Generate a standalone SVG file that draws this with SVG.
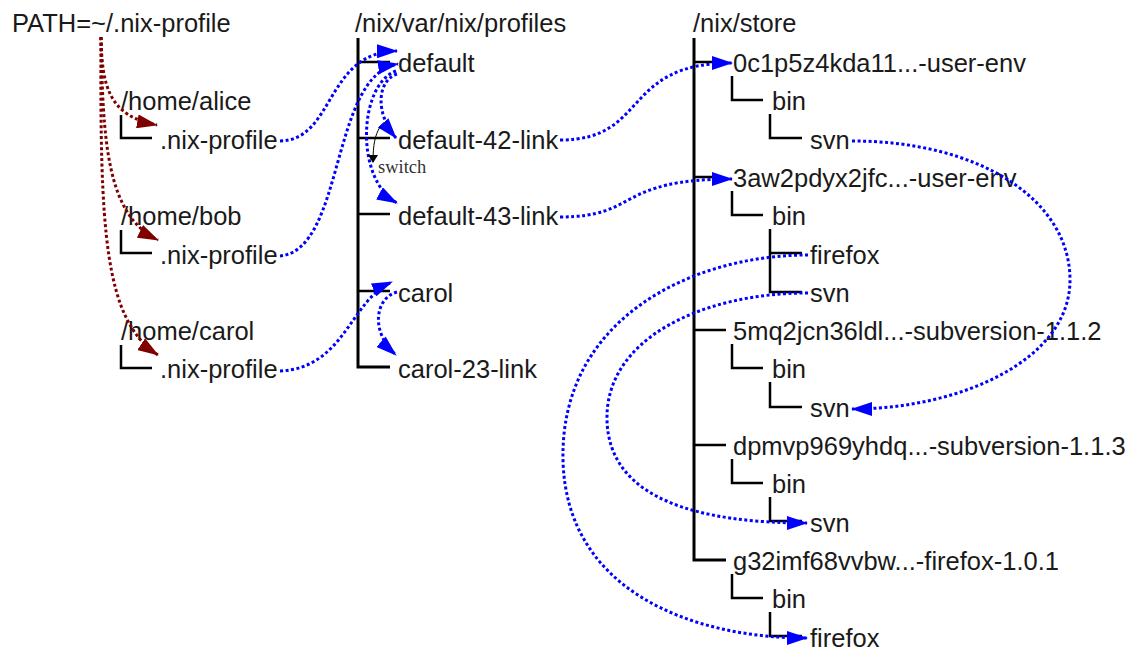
<svg xmlns="http://www.w3.org/2000/svg" width="1133" height="650" viewBox="0 0 1133 650">
<style>
text{font-family:"Liberation Sans",Arial,sans-serif;font-size:25.5px;fill:#1a1a1a}
.sw{font-family:"Liberation Serif","Times New Roman",serif;font-size:18.5px;fill:#333}
.tree{fill:none;stroke:#000;stroke-width:2.5}
.trunk{fill:none;stroke:#000;stroke-width:3}
.blue{fill:none;stroke:#0000ff;stroke-width:3;stroke-dasharray:3 2.5}
.red{fill:none;stroke:#800000;stroke-width:3;stroke-dasharray:3 2.5}
</style>
<defs>
<marker id="ab" markerWidth="21" markerHeight="14" refX="20" refY="7" orient="auto" markerUnits="userSpaceOnUse"><path d="M0,0 L21,7 L0,14 z" fill="#0000ff"/></marker>
<marker id="ar" markerWidth="21" markerHeight="14" refX="20" refY="7" orient="auto" markerUnits="userSpaceOnUse"><path d="M0,0 L21,7 L0,14 z" fill="#800000"/></marker>
<marker id="ak" markerWidth="8" markerHeight="10" refX="7" refY="5" orient="auto" markerUnits="userSpaceOnUse"><path d="M0,0 L8,5 L0,10 z" fill="#000"/></marker>
</defs>
<rect width="1133" height="650" fill="#fff"/>

<g id="path-var"><text x="12" y="32">PATH=~/.nix-profile</text></g>

<g id="home-alice">
<text x="121" y="110">/home/alice</text>
<path class="tree" d="M121,115 V138 H152"/>
<text x="160" y="148.6">.nix-profile</text>
</g>
<g id="home-bob">
<text x="121" y="225">/home/bob</text>
<path class="tree" d="M121,230 V253 H152"/>
<text x="160" y="263.5">.nix-profile</text>
</g>
<g id="home-carol">
<text x="121" y="340">/home/carol</text>
<path class="tree" d="M121,345 V368 H152"/>
<text x="160" y="378.4">.nix-profile</text>
</g>

<g id="profiles">
<text x="355" y="32">/nix/var/nix/profiles</text>
<path class="trunk" d="M358,38 V367 H390"/>
<path class="tree" d="M358,62 H390 M358,138 H390 M358,214 H390 M358,291 H390"/>
<text x="398" y="72">default</text>
<text x="398" y="148.6">default-42-link</text>
<text x="398" y="225">default-43-link</text>
<text x="398" y="301.8">carol</text>
<text x="398" y="378.4">carol-23-link</text>
<text class="sw" x="378" y="173">switch</text>
</g>

<g id="store">
<text x="693" y="32">/nix/store</text>
<path class="trunk" d="M694,38 V560 H726"/>
<path class="tree" d="M694,62 H712 M694,177 H712 M694,330 H726 M694,445 H726"/>
</g>
<g id="env0c1p">
<text x="733" y="72">0c1p5z4kda11...-user-env</text>
<path class="tree" d="M732,76 V100 H763"/>
<text x="772" y="110.3">bin</text>
<path class="tree" d="M770,114 V138 H802"/>
<text x="810" y="148.6">svn</text>
</g>
<g id="env3aw2">
<text x="733" y="186.9">3aw2pdyx2jfc...-user-env</text>
<path class="tree" d="M732,191 V215 H763"/>
<text x="772" y="225.2">bin</text>
<path class="tree" d="M770,229 V292 H802 M770,253 H802"/>
<text x="810" y="263.5">firefox</text>
<text x="810" y="301.8">svn</text>
</g>
<g id="svn112">
<text x="733" y="340.1">5mq2jcn36ldl...-subversion-1.1.2</text>
<path class="tree" d="M732,344 V368 H763"/>
<text x="772" y="378.4">bin</text>
<path class="tree" d="M770,382 V407 H802"/>
<text x="810" y="416.7">svn</text>
</g>
<g id="svn113">
<text x="733" y="455">dpmvp969yhdq...-subversion-1.1.3</text>
<path class="tree" d="M732,459 V483 H763"/>
<text x="772" y="493.3">bin</text>
<path class="tree" d="M770,497 V521 H802"/>
<text x="810" y="531.6">svn</text>
</g>
<g id="firefox101">
<text x="733" y="569.9">g32imf68vvbw...-firefox-1.0.1</text>
<path class="tree" d="M732,574 V598 H763"/>
<text x="772" y="608.2">bin</text>
<path class="tree" d="M770,612 V636 H802"/>
<text x="810" y="646.5">firefox</text>
</g>

<g id="connectors">
<path class="red" marker-end="url(#ar)" d="M101,37 C102,85 108,116 157,125"/>
<path class="red" marker-end="url(#ar)" d="M101,37 C103,140 106,215 158,240"/>
<path class="red" marker-end="url(#ar)" d="M101,37 C100,230 104,320 158,355"/>

<path class="blue" marker-end="url(#ab)" d="M280,141 C335,140 325,52 397,51"/>
<path class="blue" marker-end="url(#ab)" d="M280,256 C345,250 330,75 398,64"/>
<path class="blue" marker-end="url(#ab)" d="M397,74 C378,80 374,112 396,138"/>
<path class="blue" marker-end="url(#ab)" d="M396,71 C358,85 355,180 397,203"/>
<path class="blue" marker-end="url(#ab)" d="M280,371 C345,368 350,300 392,282"/>
<path class="blue" marker-end="url(#ab)" d="M397,292 C375,298 370,332 396,355"/>

<path class="blue" marker-end="url(#ab)" d="M560,140 C650,140 620,63 732,63"/>
<path class="blue" marker-end="url(#ab)" d="M560,217 C640,217 615,179 732,179"/>

<path class="blue" marker-end="url(#ab)" d="M852,141 C980,141 1070,200 1070,280 C1070,360 960,409 852,409"/>
<path class="blue" marker-end="url(#ab)" d="M808,255 C690,255 560,320 563,460 C566,590 690,638 807,638"/>
<path class="blue" marker-end="url(#ab)" d="M808,293 C700,293 605,340 607,420 C609,500 700,523 807,523"/>

<path fill="none" stroke="#000" stroke-width="1" marker-end="url(#ak)" d="M380,127 C375,135 373,145 373,162"/>
</g>
</svg>
